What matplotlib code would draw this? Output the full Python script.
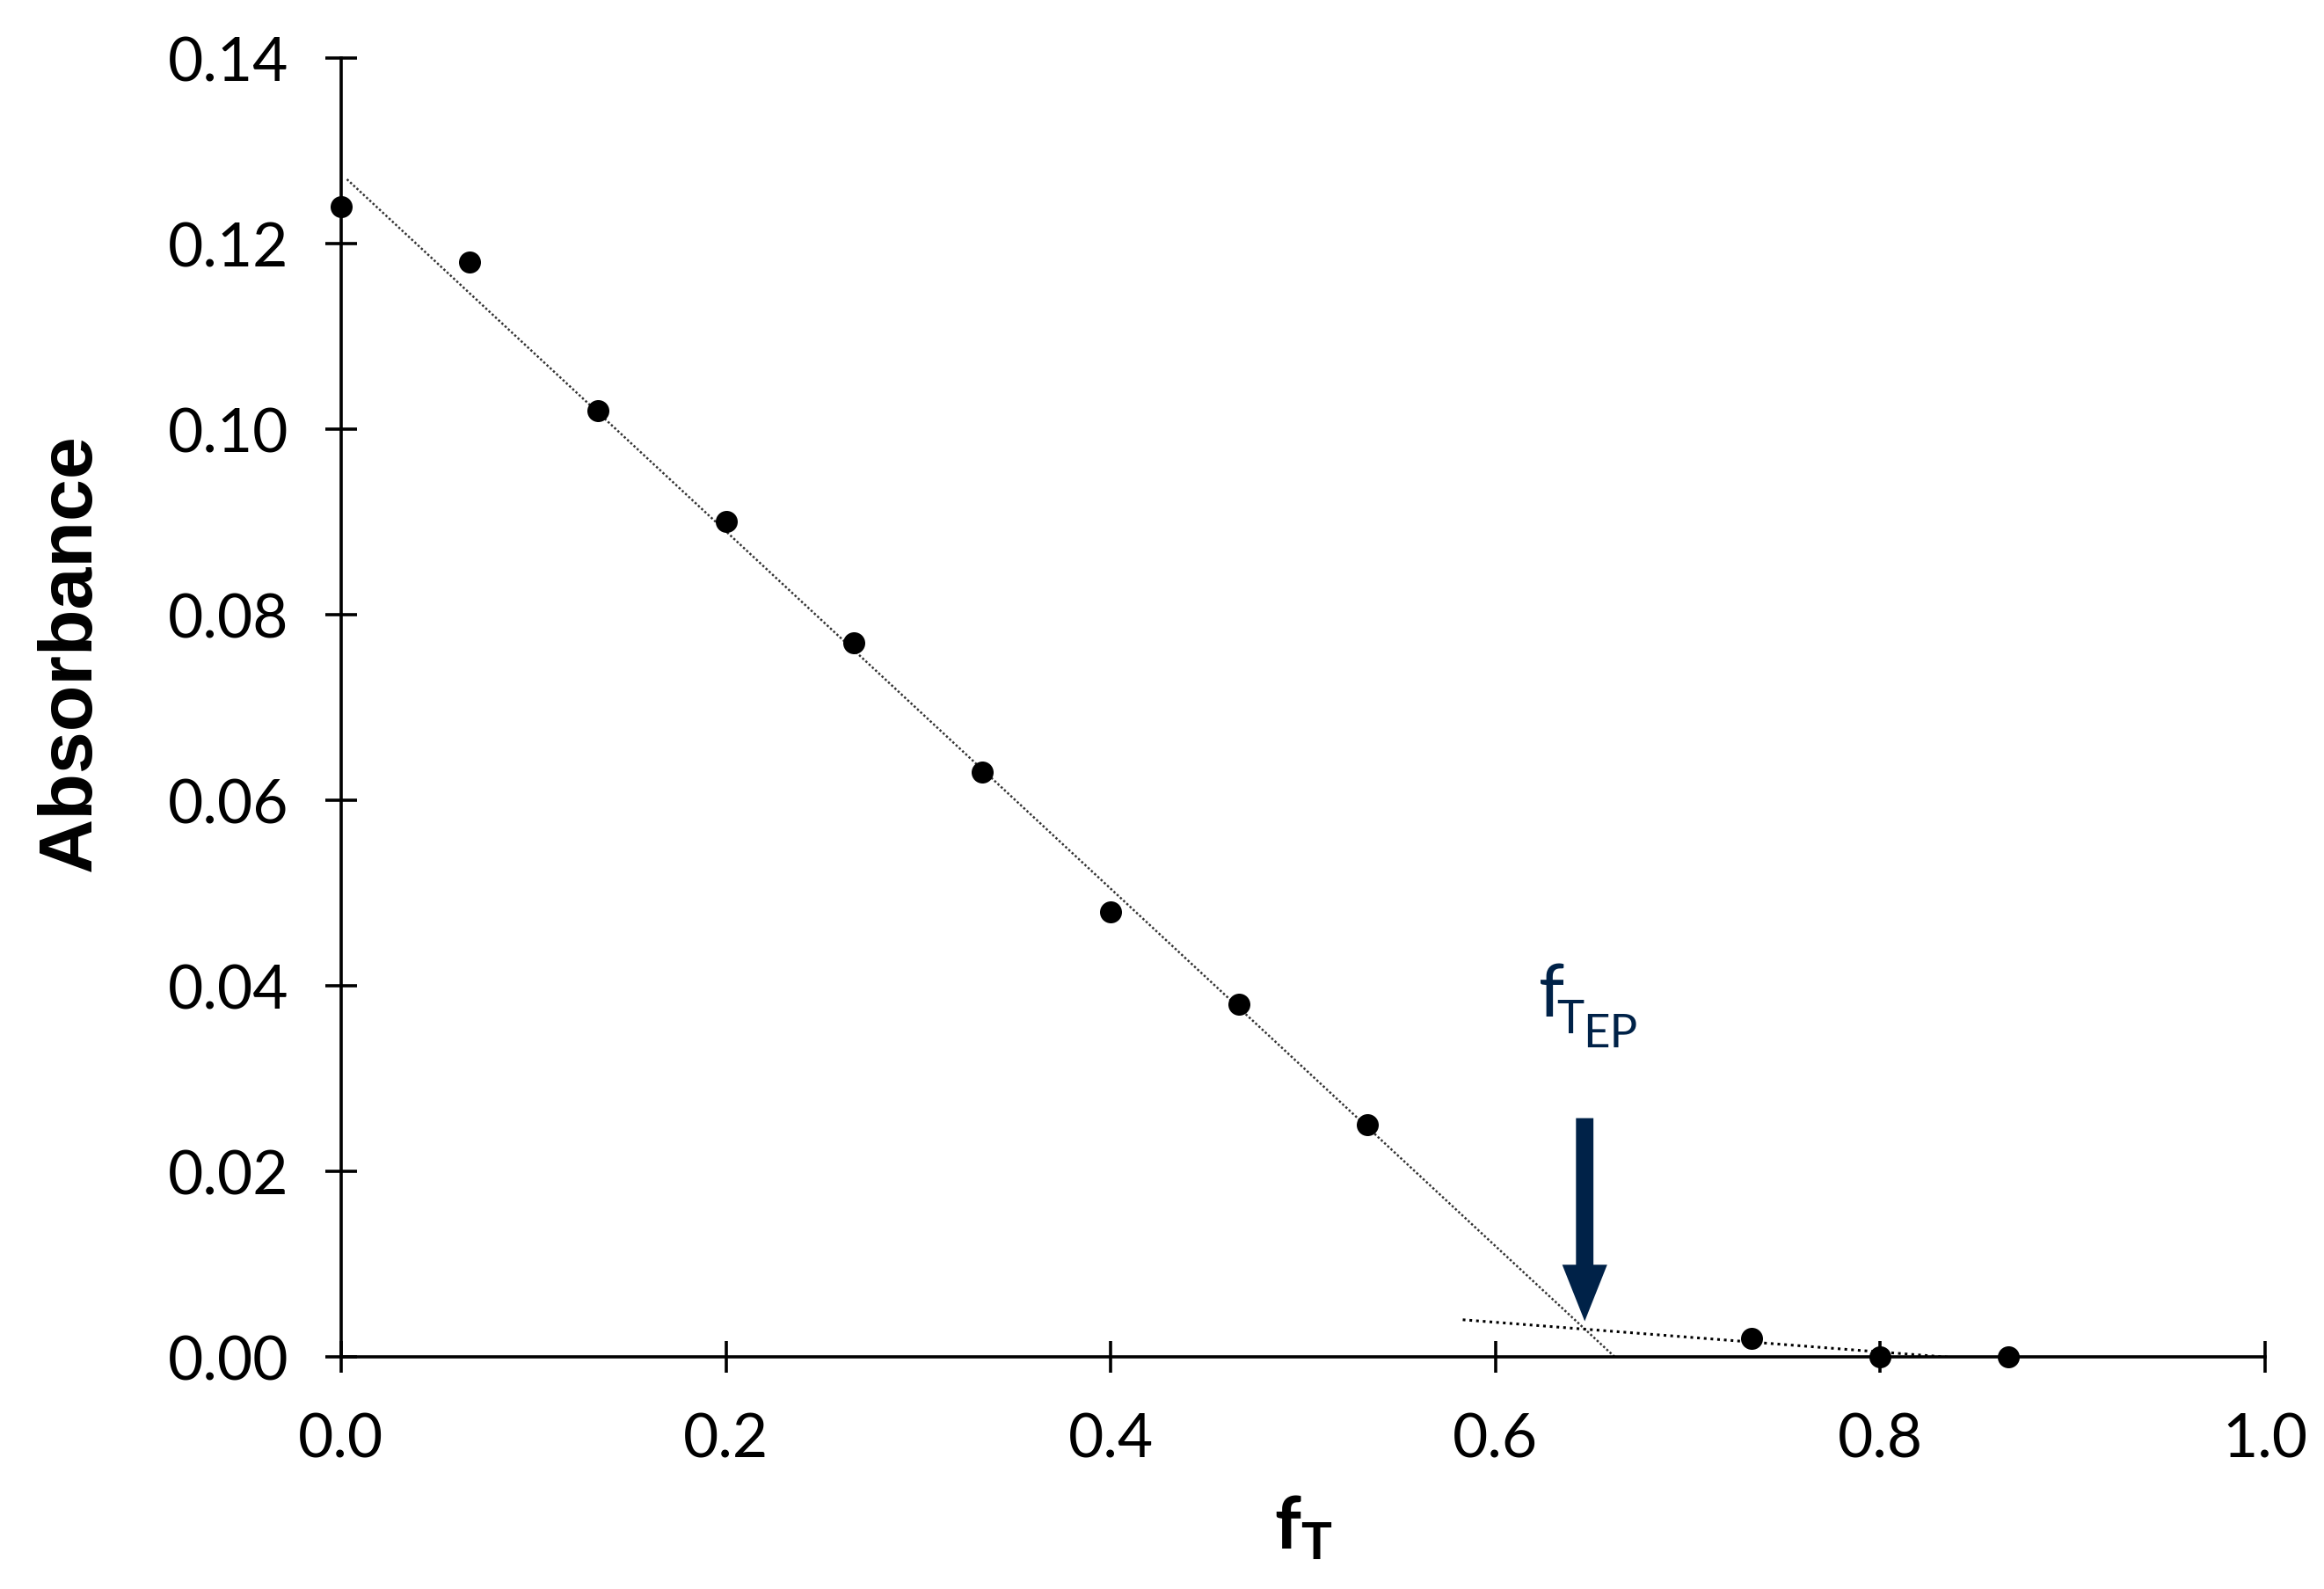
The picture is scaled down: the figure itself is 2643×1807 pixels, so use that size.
import matplotlib
matplotlib.use("Agg")
import matplotlib.pyplot as plt
import numpy as np

# data
f_T = [0.0, 0.0667, 0.1333, 0.2, 0.2667, 0.3333, 0.4, 0.4667, 0.5333, 0.7333, 0.8, 0.8667]
absorbance = [0.124, 0.118, 0.102, 0.090, 0.077, 0.063, 0.048, 0.038, 0.025, 0.002, 0.0, 0.0]

# two linear trend lines (x range, slope, intercept)
fit1_x = [0.003, 0.662]
fit1_slope, fit1_icpt = -0.1926, 0.1275
fit2_x = [0.583, 0.84]
fit2_slope, fit2_icpt = -0.0160, 0.01333

# end point marker
ep_x = 0.6464
ep_arrow_y = [0.0256, 0.0042]
ep_label_pos = (0.6225, 0.0368)

x_ticks = [0.0, 0.2, 0.4, 0.6, 0.8, 1.0]
y_ticks = [0.0, 0.02, 0.04, 0.06, 0.08, 0.10, 0.12, 0.14]

navy = "#002248"

plt.rcParams["font.family"] = ["Lato", "DejaVu Sans"]
plt.rcParams["mathtext.fontset"] = "custom"
plt.rcParams["mathtext.rm"] = "Lato"
plt.rcParams["mathtext.it"] = "Lato"
plt.rcParams["mathtext.bf"] = "Lato:bold"

fig = plt.figure(figsize=(13.215, 9.04), dpi=200)
ax = fig.add_subplot(111)
fig.subplots_adjust(left=0.1468, right=0.9746, bottom=0.146, top=0.963)

x1 = np.array(fit1_x)
ax.plot(x1, fit1_slope * x1 + fit1_icpt, color="#333333", linestyle=(0, (1, 1)), linewidth=0.9)
x2 = np.array(fit2_x)
ax.plot(x2, fit2_slope * x2 + fit2_icpt, color="black", linestyle=(0, (1, 1.5)), linewidth=1.1)

ax.plot(f_T, absorbance, "o", color="black", markersize=8, clip_on=False, zorder=5)

ax.arrow(ep_x, ep_arrow_y[0], 0, ep_arrow_y[1] - ep_arrow_y[0], width=0.0078,
         head_width=0.0215, head_length=0.0056, length_includes_head=True,
         color=navy, zorder=6)

# f_{T_EP} built from three pieces so the subscripts keep their size
ax.annotate("f", xy=ep_label_pos, xytext=(0, 0), textcoords="offset points",
            color=navy, fontsize=30, ha="left", va="baseline")
ax.annotate("T", xy=ep_label_pos, xytext=(7.4, -7.1), textcoords="offset points",
            color=navy, fontsize=19, ha="left", va="baseline")
ax.annotate("EP", xy=ep_label_pos, xytext=(18.2, -12.7), textcoords="offset points",
            color=navy, fontsize=19, ha="left", va="baseline")

ax.set_xlim(0, 1.0)
ax.set_ylim(0, 0.14)
ax.set_xticks(x_ticks)
ax.set_yticks(y_ticks)
ax.set_xticklabels(["%.1f" % v for v in x_ticks])
ax.set_yticklabels(["%.2f" % v for v in y_ticks])

for side in ["top", "right"]:
    ax.spines[side].set_visible(False)
for side in ["left", "bottom"]:
    ax.spines[side].set_linewidth(1.3)

ax.tick_params(axis="both", direction="inout", length=13, width=1.3, labelsize=25)
ax.tick_params(axis="y", pad=15)
ax.tick_params(axis="x", pad=16)

ax.set_ylabel("Absorbance", fontsize=31, fontweight="bold", family=["Liberation Sans", "DejaVu Sans"])
ax.yaxis.set_label_coords(-0.122, 0.543)
ax.set_xlabel(r"$\mathbf{f_T}$", fontsize=30)
ax.xaxis.set_label_coords(0.5, -0.105)

fig.savefig("out.png", dpi=200)
